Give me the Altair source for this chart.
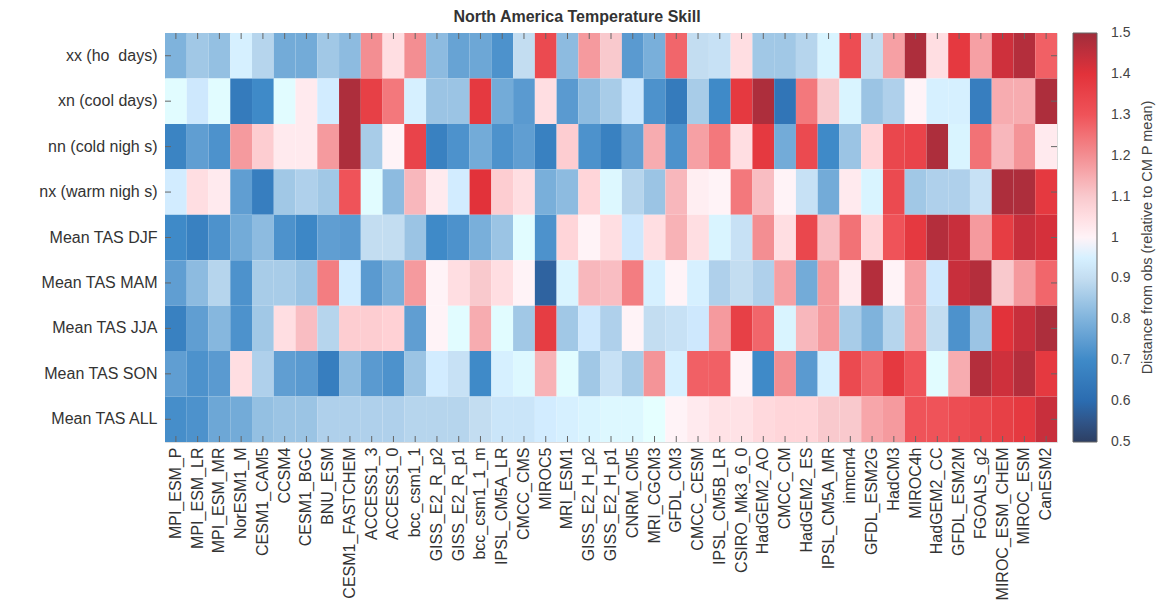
import altair as alt
import pandas as pd

models = ["MPI_ESM_P", "MPI_ESM_LR", "MPI_ESM_MR", "NorESM1_M", "CESM1_CAM5", "CCSM4",
          "CESM1_BGC", "BNU_ESM", "CESM1_FASTCHEM", "ACCESS1_3", "ACCESS1_0", "bcc_csm1_1",
          "GISS_E2_R_p2", "GISS_E2_R_p1", "bcc_csm1_1_m", "IPSL_CM5A_LR", "CMCC_CMS", "MIROC5",
          "MRI_ESM1", "GISS_E2_H_p2", "GISS_E2_H_p1", "CNRM_CM5", "MRI_CGCM3", "GFDL_CM3",
          "CMCC_CESM", "IPSL_CM5B_LR", "CSIRO_Mk3_6_0", "HadGEM2_AO", "CMCC_CM", "HadGEM2_ES",
          "IPSL_CM5A_MR", "inmcm4", "GFDL_ESM2G", "HadCM3", "MIROC4h", "HadGEM2_CC",
          "GFDL_ESM2M", "FGOALS_g2", "MIROC_ESM_CHEM", "MIROC_ESM", "CanESM2"]

metrics = ["xx (ho\u00a0 days)", "xn (cool days)", "nn (cold nigh s)", "nx (warm nigh s)",
           "Mean TAS DJF", "Mean TAS MAM", "Mean TAS JJA", "Mean TAS SON", "Mean TAS ALL"]

xx = [0.80, 0.85, 0.83, 0.95, 0.88, 0.78, 0.78, 0.85, 0.82, 1.20, 1.05, 1.20, 0.82, 0.76,
      0.77, 0.72, 0.90, 1.33, 0.82, 1.18, 1.10, 0.74, 0.79, 1.27, 0.90, 0.91, 1.05, 0.85,
      0.85, 0.88, 0.96, 1.32, 0.90, 1.17, 1.48, 1.05, 1.38, 1.17, 1.43, 1.47, 1.28]
xn = [0.98, 0.93, 0.98, 0.65, 0.70, 0.98, 1.02, 0.94, 1.48, 1.36, 1.24, 0.95, 0.84, 0.84,
      1.38, 0.78, 0.74, 1.05, 0.74, 0.82, 0.86, 0.93, 0.72, 0.65, 0.86, 0.70, 1.38, 1.48,
      0.63, 1.24, 1.10, 0.96, 0.84, 0.87, 1.00, 0.95, 0.95, 0.66, 1.15, 1.15, 1.48]
nn = [0.68, 0.75, 0.72, 1.18, 1.09, 1.02, 1.02, 1.18, 1.48, 0.86, 1.00, 1.35, 0.67, 0.72,
      0.78, 0.72, 0.75, 0.67, 1.09, 0.72, 0.67, 0.75, 1.15, 0.72, 1.17, 1.24, 1.05, 1.38,
      0.78, 1.33, 0.70, 0.84, 1.07, 1.34, 1.35, 1.48, 0.96, 1.25, 1.13, 1.19, 1.02]
nx = [0.94, 1.05, 1.02, 0.75, 0.66, 0.85, 0.87, 0.85, 1.30, 0.98, 0.82, 1.13, 1.02, 0.94,
      1.40, 1.09, 1.05, 0.79, 0.82, 1.07, 0.97, 0.88, 0.84, 1.13, 1.01, 1.00, 1.24, 1.12,
      1.00, 0.91, 0.78, 1.02, 0.96, 1.33, 0.85, 0.87, 0.87, 0.91, 1.48, 1.48, 1.38]
djf = [0.70, 0.67, 0.72, 0.78, 0.82, 0.72, 0.69, 0.75, 0.74, 0.90, 0.90, 0.84, 0.70, 0.72,
       0.79, 0.84, 0.98, 0.72, 1.07, 1.00, 1.05, 0.93, 1.05, 1.14, 1.05, 0.96, 0.91, 1.20,
       1.05, 1.34, 1.12, 1.25, 1.07, 1.30, 1.38, 1.47, 1.44, 1.18, 1.37, 1.44, 1.42]
mam = [0.75, 0.82, 0.88, 0.72, 0.86, 0.86, 0.84, 1.23, 0.94, 0.74, 0.79, 1.18, 1.00, 1.05,
       1.10, 1.05, 1.00, 0.58, 0.96, 1.13, 1.12, 1.23, 0.95, 1.00, 0.95, 0.87, 0.90, 0.87,
       1.17, 0.78, 1.18, 1.02, 1.47, 1.00, 1.17, 0.93, 1.44, 1.47, 1.10, 1.18, 1.27]
jja = [0.67, 0.75, 0.81, 0.72, 0.85, 1.05, 1.12, 0.88, 1.09, 1.09, 1.08, 0.75, 1.00, 0.98,
       1.15, 0.98, 0.85, 1.37, 0.85, 0.93, 0.87, 1.00, 0.90, 0.91, 0.93, 1.18, 1.36, 1.27,
       0.96, 1.13, 1.18, 0.86, 0.80, 0.88, 1.17, 0.90, 0.72, 0.84, 1.40, 1.44, 1.48]
son = [0.75, 0.72, 0.74, 1.05, 0.87, 0.75, 0.74, 0.66, 0.82, 0.74, 0.72, 0.84, 0.94, 0.91,
       0.70, 0.95, 0.97, 1.14, 0.98, 0.85, 0.91, 0.86, 1.19, 0.95, 1.28, 1.28, 1.00, 0.70,
       1.20, 0.74, 0.95, 1.33, 1.27, 1.38, 1.30, 0.98, 1.15, 1.47, 1.43, 1.47, 1.38]
all_ = [0.71, 0.72, 0.77, 0.78, 0.83, 0.84, 0.84, 0.87, 0.87, 0.87, 0.87, 0.88, 0.88, 0.88,
        0.90, 0.92, 0.92, 0.94, 0.95, 0.96, 0.97, 0.97, 0.99, 1.00, 1.02, 1.04, 1.04, 1.06,
        1.07, 1.07, 1.10, 1.10, 1.16, 1.18, 1.30, 1.30, 1.32, 1.34, 1.36, 1.38, 1.44]

rows = [xx, xn, nn, nx, djf, mam, jja, son, all_]

legend_values = [0.5, 0.6, 0.7, 0.8, 0.9, 1.0, 1.1, 1.2, 1.3, 1.4, 1.5]
color_stops = [0.4999, 0.6, 0.7, 0.8, 0.9, 1.0, 1.1, 1.2, 1.3, 1.4, 1.5001]
color_range = ["#2d3f63", "#2b6cb0", "#3f8ac8", "#7fb3dc", "#c3ddf1", "#ffffff",
               "#f9c9cd", "#f38e92", "#ef5359", "#e2323a", "#a02d3b"]

legend_title = "Distance from obs (relative to CM P mean)"
chart_title = "North America Temperature Skill"

records = []
for met, vals in zip(metrics, rows):
    for mod, v in zip(models, vals):
        records.append({"model": mod, "metric": met, "value": v})
df = pd.DataFrame(records)
df_x = df[df["metric"] == metrics[0]]
df_y = df[df["model"] == models[0]]

W, H = 892, 409
FONT = "Liberation Sans"
GRID = "#666666"

xscale = alt.Scale(paddingInner=0, paddingOuter=0)
yscale = alt.Scale(paddingInner=0, paddingOuter=0)

heat = alt.Chart(df).mark_rect().encode(
    x=alt.X("model:N", sort=models, scale=xscale,
            axis=alt.Axis(title=None, labelAngle=-90, labelFontSize=16, labelColor="#333",
                          labelFont=FONT, ticks=False, domain=False, labelPadding=5)),
    y=alt.Y("metric:N", sort=metrics, scale=yscale,
            axis=alt.Axis(title=None, labelFontSize=16, labelColor="#333", labelFont=FONT,
                          ticks=False, domain=False, labelPadding=8)),
    color=alt.Color("value:Q",
                    scale=alt.Scale(domain=color_stops, range=color_range, clamp=True),
                    legend=alt.Legend(title=None, values=legend_values, format=".1~f",
                                      orient="right", direction="vertical",
                                      gradientLength=H, gradientThickness=24,
                                      gradientStrokeColor=GRID, gradientStrokeWidth=1,
                                      labelFontSize=14, labelColor="#444", labelFont=FONT,
                                      labelBaseline="middle", labelOffset=14,
                                      labelOverlap=False, offset=16, padding=0)),
)

tick_kw = dict(color=GRID, thickness=1, size=6, opacity=1)
top_ticks = alt.Chart(df_x).mark_tick(orient="vertical", **tick_kw).encode(
    x=alt.X("model:N", sort=models), y=alt.value(3))
bot_ticks = alt.Chart(df_x).mark_tick(orient="vertical", **tick_kw).encode(
    x=alt.X("model:N", sort=models), y=alt.value(H - 3))
left_ticks = alt.Chart(df_y).mark_tick(orient="horizontal", **tick_kw).encode(
    y=alt.Y("metric:N", sort=metrics), x=alt.value(3))
right_ticks = alt.Chart(df_y).mark_tick(orient="horizontal", **tick_kw).encode(
    y=alt.Y("metric:N", sort=metrics), x=alt.value(W - 3))

ltitle = alt.Chart(pd.DataFrame({"t": [legend_title]})).mark_text(
    angle=270, fontSize=14.5, color="#444", font=FONT, baseline="middle", align="center"
).encode(text="t:N", x=alt.value(983), y=alt.value(H / 2))

chart = alt.layer(heat, top_ticks, bot_ticks, left_ticks, right_ticks, ltitle).properties(
    width=W, height=H,
    title=alt.TitleParams(chart_title, fontSize=16, fontWeight="bold", color="#333",
                          font=FONT, anchor="middle", dx=-34, offset=8),
    autosize=alt.AutoSizeParams(type="none"),
    padding={"left": 157, "top": 25, "right": 101, "bottom": 170},
).configure_view(stroke=GRID, strokeWidth=1).configure(background="white")

chart.save("out.html", embed_options={"renderer": "svg", "actions": False})
